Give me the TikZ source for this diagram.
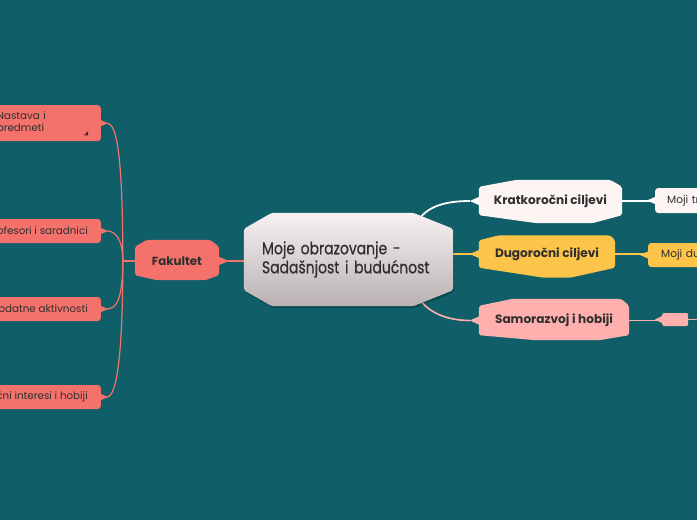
\documentclass[tikz,border=0pt]{standalone}
\usepackage{fontspec}
\setmainfont{Poppins}
\newfontfamily\cenfont[FakeStretch=0.82,FakeBold=0.7]{Poppins}
\usetikzlibrary{calc}
\pgfdeclarelayer{bglayer}
\pgfdeclarelayer{connlayer}
\pgfdeclarelayer{shapelayer}
\pgfsetlayers{bglayer,connlayer,shapelayer,main}
\definecolor{bgteal}{RGB}{15,94,104}
\definecolor{salmon}{RGB}{244,114,107}
\definecolor{kratfill}{RGB}{253,244,244}
\definecolor{dugfill}{RGB}{253,196,74}
\definecolor{samofill}{RGB}{255,176,174}
\definecolor{textdark}{RGB}{47,47,47}
\definecolor{centop}{RGB}{247,241,241}
\definecolor{cenbot}{RGB}{186,178,178}
% #1 node, #2 fill options, #3 top-left inset, #4 top-right inset, #5 top rise,
% #6 bottom-left inset, #7 bottom-right inset, #8 bottom drop
\newcommand\hexfill[8]{\path[#2, rounded corners=2pt] (#1.south west) -- (#1.north west) -- ($(#1.north west)+(#3,-#5)$) -- ($(#1.north east)+(-#4,-#5)$) -- (#1.north east) -- (#1.south east) -- ($(#1.south east)+(-#7,#8)$) -- ($(#1.south west)+(#6,#8)$) -- cycle;}
% #1 point, #2 length (signed), #3 half height, #4 colour
\newcommand\flare[4]{\fill[#4] ($(#1)+(0,-#3)$) -- ($(#1)+(#2,0)$) -- ($(#1)+(0,#3)$) -- cycle;}
\begin{document}
\begin{tikzpicture}[x=1pt,y=-1pt,
  hexlabel/.style={draw=none, inner sep=0pt, font=\bfseries\fontsize{12.1}{14}\selectfont, text=textdark},
  leftbox/.style={fill=salmon, rounded corners=3pt, anchor=east, inner xsep=13pt, inner ysep=0pt, minimum height=24pt, font=\fontsize{10.3}{12}\selectfont, text=textdark},
  rightbox/.style={rounded corners=3pt, anchor=west, inner ysep=0pt, align=left, font=\fontsize{10.6}{12}\selectfont, text=textdark},
  salline/.style={draw=salmon, line width=1.2pt},
  whiteline/.style={draw=white, line width=1.8pt},
  yelline/.style={draw=dugfill, line width=1.6pt},
  pinkline/.style={draw=samofill, line width=1.6pt}]
\useasboundingbox (0,0) rectangle (697,520);
\begin{pgfonlayer}{bglayer}
  \fill[bgteal] (0,0) rectangle (697,520);
\end{pgfonlayer}

% central node
\node[inner xsep=18pt, inner ysep=0pt, text width=173pt, minimum height=61pt, align=left,
      font=\cenfont\fontsize{17}{19}\selectfont, text=textdark] (cen) at (348.5,259.5)
      {Moje obrazovanje -\\Sadašnjost i budućnost};
% main branches
\node[hexlabel, font=\bfseries\fontsize{11.8}{13}\selectfont, minimum width=84pt, minimum height=28pt] (fak) at (177,261) {Fakultet};
\node[hexlabel, minimum width=143pt, minimum height=28pt] (krat) at (550.5,201) {Kratkoročni ciljevi};
\node[hexlabel, minimum width=136pt, minimum height=27pt] (dug) at (547,254) {Dugoročni ciljevi};
\node[hexlabel, minimum width=150pt, minimum height=29pt] (samo) at (554,320.5) {Samorazvoj i hobiji};

% left children
\node[leftbox, anchor=north east, minimum height=36pt, inner xsep=6pt, text width=98pt, align=left] (nas) at (101,105) {Nastava i\\predmeti};
\node[leftbox] (pro) at (101,231) {Profesori i saradnici};
\node[leftbox] (dod) at (101,309) {Dodatne aktivnosti};
\node[leftbox] (lic) at (101,397) {Lični interesi i hobiji};
\fill[textdark] ($(nas.south east)+(-13,-10)$) -- ($(nas.south east)+(-13,-6)$) -- ($(nas.south east)+(-17,-6)$) -- cycle;

% right children
\node[rightbox, fill=kratfill, minimum height=25pt, text width=50pt, inner xsep=12pt] (mtr) at (655,200.5) {Moji tr};
\node[rightbox, fill=dugfill, minimum height=24pt, text width=50pt, inner xsep=13pt] (mdg) at (648,255) {Moji dug};
\node[fill=samofill, rounded corners=2pt, anchor=west, inner sep=0pt, minimum width=26pt, minimum height=13pt] (sml) at (662,319.5) {};
\coordinate (smlend) at (700,319.5);
\coordinate (ltrunk) at ($(fak.west)+(-12,0)$);

\begin{pgfonlayer}{shapelayer}
  \begin{scope}[transform canvas={shift={(1pt,-2pt)}}]
    \hexfill{cen}{fill=black, opacity=0.22}{28}{40}{16}{28}{40}{16}
  \end{scope}
  \hexfill{cen}{top color=centop, bottom color=cenbot}{28}{40}{16}{28}{40}{16}
  \hexfill{fak}{fill=salmon}{12}{9}{7}{22}{14}{5}
  \hexfill{krat}{fill=kratfill}{38}{12}{7}{58}{30}{8}
  \hexfill{dug}{fill=dugfill}{20}{5}{5}{65}{45}{10}
  \hexfill{samo}{fill=samofill}{34}{8}{7}{57}{30}{5}
\end{pgfonlayer}

\begin{pgfonlayer}{connlayer}
  % left side
  \draw[salline] (fak.west) -- (ltrunk);
  \draw[salline] (ltrunk) .. controls ($(ltrunk |- nas.east)+(0,27)$) and ($(nas.east)+(15,0)$) .. ($(nas.east)+(6,0)$);
  \draw[salline] (ltrunk) .. controls ($(ltrunk |- pro.east)+(0,9)$) and ($(pro.east)+(15,0)$) .. ($(pro.east)+(6,0)$);
  \draw[salline] (ltrunk) .. controls ($(ltrunk |- dod.east)+(0,-9)$) and ($(dod.east)+(15,0)$) .. ($(dod.east)+(6,0)$);
  \draw[salline] (ltrunk) .. controls ($(ltrunk |- lic.east)+(0,-37)$) and ($(lic.east)+(15,0)$) .. ($(lic.east)+(6,0)$);
  \flare{nas.east}{7}{3}{salmon}
  \flare{pro.east}{7}{3}{salmon}
  \flare{dod.east}{7}{3}{salmon}
  \flare{lic.east}{7}{3}{salmon}
  % centre to Fakultet
  \draw[salline] (fak.east) -- (fak.east -| cen.west);
  \flare{fak.east}{10}{4}{salmon}
  % centre to right branches
  \draw[whiteline] ($(cen.north east)+(-35,-8)$) .. controls ($(cen.north east)+(-26,-23)$) and ($(krat.west)+(-32,0)$) .. ($(krat.west)+(-9,0)$);
  \flare{krat.west}{-9}{4}{white}
  \draw[yelline] (dug.west -| cen.east) -- (dug.west);
  \flare{dug.west}{-9}{4}{dugfill}
  \draw[pinkline] ($(cen.south east)+(-35,7)$) .. controls ($(cen.south east)+(-26,22)$) and ($(samo.west)+(-32,0)$) .. ($(samo.west)+(-9,0)$);
  \flare{samo.west}{-9}{4}{samofill}
  % right children
  \draw[draw=white, line width=1.3pt] (krat.east) -- (krat.east -| mtr.west);
  \flare{mtr.west}{-8}{3.5}{white}
  \draw[draw=dugfill, line width=1.3pt] (dug.east) -- (dug.east -| mdg.west);
  \flare{mdg.west}{-8}{3.5}{dugfill}
  \draw[draw=samofill, line width=1.3pt] (samo.east) -- (samo.east -| sml.west);
  \flare{sml.west}{-7}{3.5}{samofill}
  \draw[draw=samofill, line width=1.3pt] (sml.east) -- (smlend);
\end{pgfonlayer}
\end{tikzpicture}
\end{document}
